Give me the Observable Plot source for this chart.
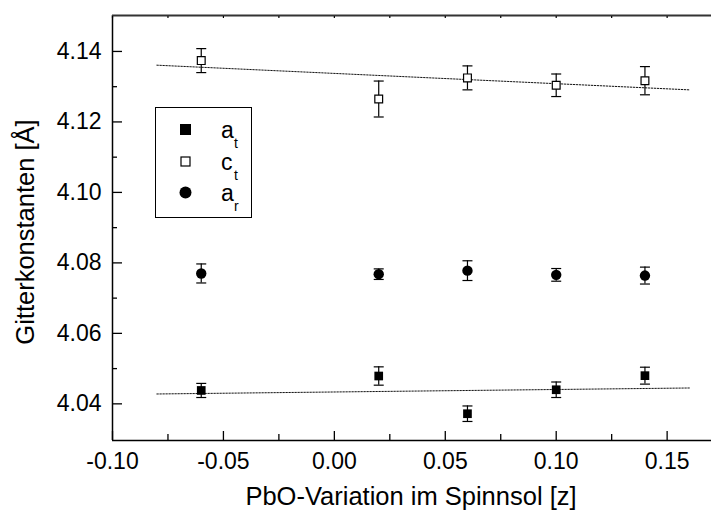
<!DOCTYPE html>
<html>
<head>
<meta charset="utf-8">
<script src="https://cdn.jsdelivr.net/npm/d3@7"></script>
<script src="https://cdn.jsdelivr.net/npm/@observablehq/plot@0.6"></script>
<style>
  html, body { margin: 0; padding: 0; background: #fff; }
  #wrap { position: relative; width: 711px; height: 519px; font-family: "Liberation Sans", Arial, sans-serif; }
  #wrap svg { display: block; }
  .title { position: absolute; font-size: 25.5px; color: #000; white-space: nowrap; line-height: 1; }
  #legend { position: absolute; left: 154.5px; top: 106.5px; width: 97px; height: 111px; box-sizing: border-box; border: 1.5px solid #000; background: #fff; }
</style>
</head>
<body>
<div id="wrap"></div>
<script>
// ---- data ----
const zValues = [-0.06, 0.02, 0.06, 0.10, 0.14];
const atValues = [4.0438, 4.0479, 4.0372, 4.0440, 4.0480];
const atErrors = [0.0020, 0.0026, 0.0022, 0.0022, 0.0024];
const ctValues = [4.1374, 4.1265, 4.1325, 4.1304, 4.1317];
const ctErrors = [0.0034, 0.0051, 0.0034, 0.0032, 0.0040];
const arValues = [4.0770, 4.0768, 4.0778, 4.0766, 4.0764];
const arErrors = [0.0027, 0.0015, 0.0028, 0.0018, 0.0024];
const fitZ = [-0.08, 0.16];
const atFit = [4.0428, 4.0445];
const ctFit = [4.1361, 4.1291];
const xMajorTicks = [-0.10, -0.05, 0.00, 0.05, 0.10, 0.15];
const xMinorTicks = [-0.075, -0.025, 0.025, 0.075, 0.125];
const yMajorTicks = [4.04, 4.06, 4.08, 4.10, 4.12, 4.14];
const yMinorTicks = [4.05, 4.07, 4.09, 4.11, 4.13];
const xDomain = [-0.10, 0.17];
const yDomain = [4.0296, 4.1502];
const xTitle = "PbO-Variation im Spinnsol [z]";
const yTitle = "Gitterkonstanten [Å]";

const mk = (vals, errs) => zValues.map((z, i) => ({z, v: vals[i], e: errs[i]}));
const atData = mk(atValues, atErrors);
const ctData = mk(ctValues, ctErrors);
const arData = mk(arValues, arErrors);
const allData = [...atData, ...ctData, ...arData];
const atFitData = fitZ.map((z, i) => ({z, v: atFit[i]}));
const ctFitData = fitZ.map((z, i) => ({z, v: ctFit[i]}));

const cap = {draw(ctx) { ctx.moveTo(-5, 0); ctx.lineTo(5, 0); }};
const fmt2 = d => (+d).toFixed(2);
const none = () => "";

const chart = Plot.plot({
  width: 711,
  height: 519,
  marginLeft: 112,
  marginRight: 0,
  marginTop: 15,
  marginBottom: 79,
  style: {fontFamily: '"Liberation Sans", Arial, sans-serif', fontSize: "23px", color: "#000", background: "#fff", overflow: "visible"},
  x: {domain: xDomain},
  y: {domain: yDomain},
  marks: [
    // fit lines
    Plot.line(ctFitData, {x: "z", y: "v", stroke: "#111", strokeWidth: 1, strokeDasharray: "1.5,1.5"}),
    Plot.line(atFitData, {x: "z", y: "v", stroke: "#111", strokeWidth: 1, strokeDasharray: "1.5,1.5"}),
    // error bars
    Plot.ruleX(allData, {x: "z", y1: d => d.v - d.e, y2: d => d.v + d.e, stroke: "#000", strokeWidth: 1.2}),
    Plot.dot(allData, {x: "z", y: d => d.v - d.e, symbol: cap, r: 5, stroke: "#000", fill: "none", strokeWidth: 1.2}),
    Plot.dot(allData, {x: "z", y: d => d.v + d.e, symbol: cap, r: 5, stroke: "#000", fill: "none", strokeWidth: 1.2}),
    // markers
    Plot.dot(atData, {x: "z", y: "v", symbol: "square", r: 4.9, fill: "#000", stroke: "none"}),
    Plot.dot(ctData, {x: "z", y: "v", symbol: "square", r: 4.4, fill: "#fff", stroke: "#000", strokeWidth: 1.2}),
    Plot.dot(arData, {x: "z", y: "v", symbol: "circle", r: 5.2, fill: "#000", stroke: "none"}),
    // frame lines (left, bottom, top)
    Plot.ruleX([xDomain[0]], {stroke: "#000", strokeWidth: 1.5}),
    Plot.ruleY([yDomain[0]], {stroke: "#000", strokeWidth: 1.5}),
    Plot.ruleY([yDomain[1]], {stroke: "#333", strokeWidth: 2}),
    // y axis: labels + inward ticks
    Plot.axisY({ticks: yMajorTicks, tickSize: 0, tickPadding: 11, tickFormat: fmt2, label: null}),
    Plot.axisY({ticks: yMajorTicks, tickSize: 10, dx: 10, tickFormat: none, label: null, strokeWidth: 1.3}),
    Plot.axisY({ticks: yMinorTicks, tickSize: 5, dx: 5, tickFormat: none, label: null, strokeWidth: 1.3}),
    // x axis: labels + inward ticks
    Plot.axisX({ticks: xMajorTicks, tickSize: 0, tickPadding: 12, tickFormat: fmt2, label: null}),
    Plot.axisX({ticks: xMajorTicks, tickSize: 9, dy: -9, tickFormat: none, label: null, strokeWidth: 1.3}),
    Plot.axisX({ticks: xMinorTicks, tickSize: 6, dy: -6, tickFormat: none, label: null, strokeWidth: 1.3}),
    Plot.axisX({anchor: "top", ticks: [...xMajorTicks, ...xMinorTicks], tickSize: 2, dy: 2, tickFormat: none, label: null, strokeWidth: 1.2})
  ]
});

const wrap = document.getElementById("wrap");
wrap.appendChild(chart);

const xt = document.createElement("div");
xt.className = "title";
xt.textContent = xTitle;
xt.style.left = "411px";
xt.style.top = "484px";
xt.style.transform = "translateX(-50%)";
wrap.appendChild(xt);

const yt = document.createElement("div");
yt.className = "title";
yt.textContent = yTitle;
yt.style.left = "26px";
yt.style.top = "232px";
yt.style.transform = "translate(-50%, -50%) rotate(-90deg)";
wrap.appendChild(yt);

// legend
const legendLabels = [["a", "t"], ["c", "t"], ["a", "r"]];
const legend = document.createElement("div");
legend.id = "legend";
const ns = "http://www.w3.org/2000/svg";
const ls = document.createElementNS(ns, "svg");
ls.setAttribute("width", "94");
ls.setAttribute("height", "108");
ls.style.fontFamily = '"Liberation Sans", Arial, sans-serif';
const symY = [21.5, 53.5, 84.5];
const symX = 29.5;
function add(tag, attrs, text) {
  const el = document.createElementNS(ns, tag);
  for (const k in attrs) el.setAttribute(k, attrs[k]);
  if (text) el.textContent = text;
  ls.appendChild(el);
  return el;
}
add("rect", {x: symX - 5.5, y: symY[0] - 5.5, width: 11, height: 11, fill: "#000"});
add("rect", {x: symX - 4.5, y: symY[1] - 4.5, width: 9, height: 9, fill: "#fff", stroke: "#000", "stroke-width": 1.2});
add("circle", {cx: symX, cy: symY[2], r: 6, fill: "#000"});
legendLabels.forEach(([main, sub], i) => {
  const base = symY[i] + 8;
  add("text", {x: 65, y: base, "font-size": 23}, main);
  add("text", {x: 78, y: base + 10, "font-size": 14}, sub);
});
legend.appendChild(ls);
wrap.appendChild(legend);
</script>
</body>
</html>
